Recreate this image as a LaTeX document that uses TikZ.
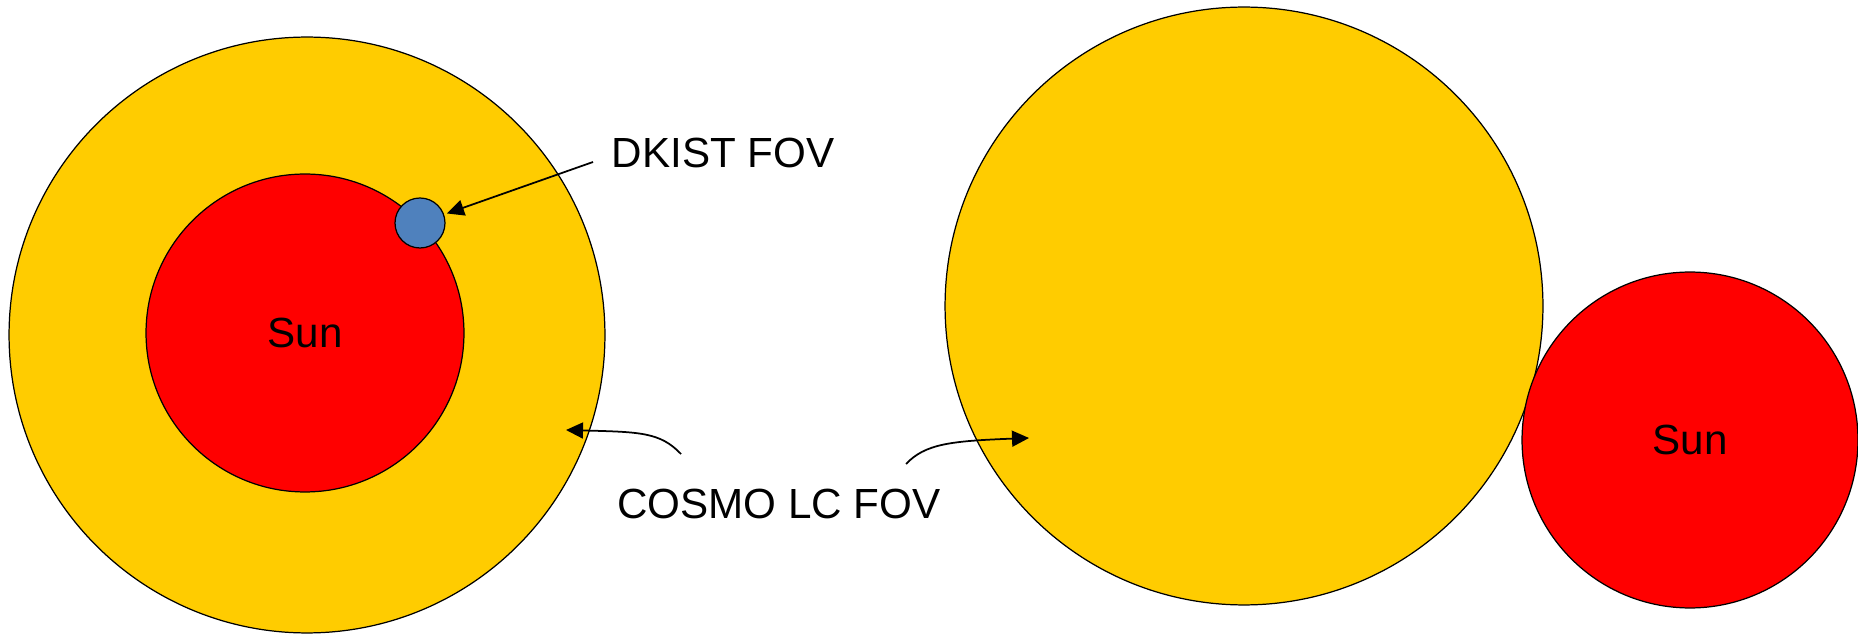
\documentclass[tikz,border=0pt]{standalone}
\usepackage{fontspec}
\setmainfont{Liberation Sans}
\usetikzlibrary{arrows.meta}
\definecolor{fovyellow}{RGB}{255,204,0}
\definecolor{fovblue}{RGB}{79,129,189}

\begin{document}
\begin{tikzpicture}[x=0.02cm,y=-0.02cm,
	disk/.style={circle,draw,line width=0.7pt,inner sep=0pt},
	txt/.style={font=\fontsize{24}{28}\selectfont,inner sep=0pt},
	fov/.style={-{Triangle[length=0.34cm,width=0.32cm]},line width=1pt}]
	\useasboundingbox (0,0) rectangle (1858,634);
	\node [disk,fill=fovyellow,minimum size=11.92cm] (cosmo1) at (307,335) {};
	\node [disk,txt,fill=red,minimum size=6.36cm] (sun1) at (305,333) {Sun};
	\node [disk,fill=fovblue,minimum size=1cm] (dkfov) at (420,223) {};
	\node [disk,fill=fovyellow,minimum size=11.96cm] (cosmo2) at (1244,306) {};
	\node [disk,txt,fill=red,minimum size=6.72cm] (sun2) at (1690,440) {Sun};
	\node [txt] (dkist) at (723,153) {DKIST FOV};
	\node [txt] (cosmo) at (779,504) {COSMO LC FOV};
	\coordinate (d0) at (593,162);
	\coordinate (c1) at (681,454);
	\coordinate (c1tip) at (566,430);
	\coordinate (c2) at (906,464);
	\coordinate (c2tip) at (1029,438);
	\draw [fov,shorten >=0.06cm] (d0) -- (dkfov);
	\draw [fov] (c1) .. controls (660,432) and (640,432) .. (c1tip);
	\draw [fov] (c2) .. controls (925,444) and (950,441) .. (c2tip);
\end{tikzpicture}
\end{document}
